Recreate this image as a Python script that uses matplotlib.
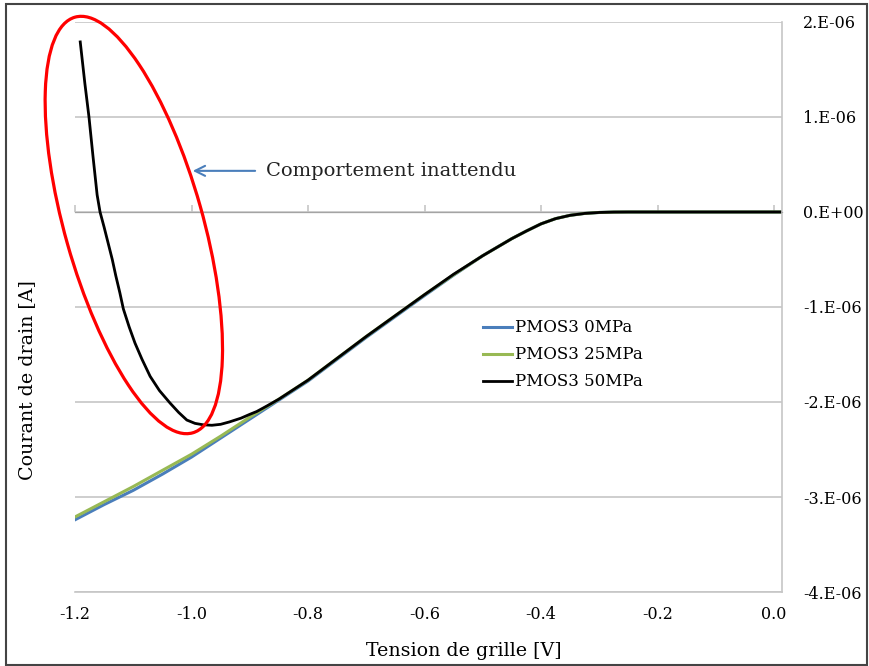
import matplotlib
matplotlib.use("Agg")
import matplotlib.pyplot as plt
from matplotlib.patches import Ellipse, Rectangle
from matplotlib.transforms import IdentityTransform

plt.rcParams["font.family"] = ["DejaVu Serif"]

# données (courant en µA)
v_ref = [-1.20, -1.15, -1.10, -1.05, -1.00, -0.95, -0.90, -0.85, -0.80, -0.75,
         -0.70, -0.65, -0.60, -0.55, -0.50, -0.45, -0.425, -0.40, -0.375, -0.35,
         -0.325, -0.30, -0.275, -0.25, -0.20, -0.15, -0.10, -0.05, 0.00, 0.012]
i_0mpa = [-3.24, -3.08, -2.93, -2.76, -2.58, -2.38, -2.18, -1.98, -1.78, -1.55,
          -1.32, -1.10, -0.88, -0.665, -0.46, -0.28, -0.20, -0.125, -0.07, -0.035,
          -0.015, -0.005, -0.001, 0.0, 0.0, 0.0, 0.0, 0.0, 0.0, 0.0]
i_25mpa = [-3.21, -3.05, -2.89, -2.72, -2.55, -2.36, -2.16, -1.97, -1.77, -1.54,
           -1.31, -1.09, -0.87, -0.66, -0.46, -0.28, -0.20, -0.125, -0.07, -0.035,
           -0.015, -0.005, -0.001, 0.0, 0.0, 0.0, 0.0, 0.0, 0.0, 0.0]

v_50 = [-1.191, -1.183, -1.176, -1.169, -1.162, -1.157, -1.150, -1.143, -1.136,
        -1.130, -1.123, -1.117, -1.107, -1.097, -1.085, -1.071, -1.055, -1.037,
        -1.022, -1.008, -0.994, -0.980, -0.965, -0.950, -0.935, -0.915, -0.900,
        -0.888, -0.870, -0.850, -0.80, -0.75, -0.70, -0.65, -0.60, -0.55, -0.50,
        -0.45, -0.425, -0.40, -0.375, -0.35, -0.325, -0.30, -0.275, -0.25, -0.20,
        -0.15, -0.10, -0.05, 0.00, 0.012]
i_50mpa = [1.79, 1.35, 1.00, 0.58, 0.18, 0.0, -0.16, -0.33, -0.50,
           -0.67, -0.85, -1.02, -1.21, -1.38, -1.55, -1.73, -1.88, -2.01,
           -2.11, -2.19, -2.225, -2.24, -2.245, -2.235, -2.21, -2.17, -2.13,
           -2.10, -2.04, -1.97, -1.77, -1.54, -1.31, -1.09, -0.87, -0.655, -0.46,
           -0.28, -0.20, -0.125, -0.07, -0.035, -0.015, -0.005, -0.001, 0.0, 0.0,
           0.0, 0.0, 0.0, 0.0, 0.0]

x_ticks = [-1.2, -1.0, -0.8, -0.6, -0.4, -0.2, 0.0]
y_ticks = [-4e-6, -3e-6, -2e-6, -1e-6, 0.0, 1e-6, 2e-6]
y_labels = ["-4.E-06", "-3.E-06", "-2.E-06", "-1.E-06", "0.E+00", "1.E-06", "2.E-06"]

fig = plt.figure(figsize=(8.69, 6.66), dpi=100)
ax = fig.add_axes([0.0863, 0.1111, 0.8136, 0.8559])

x_lim = (-1.2, 0.0137)
y_lim = (-4e-6, 2e-6)

# courbes
ax.plot(v_ref, [v * 1e-6 for v in i_0mpa], color="#4a7ebb", lw=2.2, label="PMOS3 0MPa")
ax.plot(v_ref, [v * 1e-6 for v in i_25mpa], color="#98b954", lw=2.2, label="PMOS3 25MPa")
ax.plot(v_50, [v * 1e-6 for v in i_50mpa], color="black", lw=2.0, label="PMOS3 50MPa",
        solid_joinstyle="round")

ax.set_xlim(*x_lim)
ax.set_ylim(*y_lim)

# grille + axes façon Excel
ax.set_yticks(y_ticks, labels=y_labels)
ax.yaxis.tick_right()
ax.grid(axis="y", color="#c6c6c6", lw=1.2)
ax.set_axisbelow(True)
for side in ["top", "left"]:
    ax.spines[side].set_visible(False)
for side in ["right", "bottom"]:
    ax.spines[side].set_color("#c6c6c6")
    ax.spines[side].set_linewidth(1.2)
ax.tick_params(axis="y", length=0, pad=15, labelsize=11.5)
ax.set_xticks(x_ticks, labels=["%.1f" % t for t in x_ticks])
ax.tick_params(axis="x", length=0, pad=10, labelsize=11.5)

# axe horizontal à y = 0 avec petites graduations
zero_frac = (0 - y_lim[0]) / (y_lim[1] - y_lim[0])
sec = ax.secondary_xaxis(zero_frac)
sec.set_xticks(x_ticks, labels=[])
sec.spines["bottom"].set_color("#c6c6c6")
sec.spines["bottom"].set_linewidth(1.2)
sec.tick_params(axis="x", direction="out", length=5, color="#c6c6c6", width=1.2)

# titres d'axes
fig.text(464 / 869, 1 - 651 / 666, "Tension de grille [V]", ha="center", va="center",
         fontsize=13.7)
fig.text(27 / 869, 1 - 380 / 666, "Courant de drain [A]", ha="center", va="center",
         rotation=90, fontsize=13.7)

# légende
ax.legend(loc="center left", bbox_to_anchor=(0.577, 0.416), frameon=False, fontsize=12,
          handlelength=1.75, handletextpad=0.2, labelspacing=0.6, borderpad=0,
          borderaxespad=0)

# annotation
ax.annotate("", xy=(-1.0026, 0.433e-6), xytext=(-0.886, 0.433e-6),
            arrowprops=dict(arrowstyle="->", color="#4a7ebb", lw=1.5, mutation_scale=18))
ax.text(-0.872, 0.433e-6, "Comportement inattendu", ha="left", va="center", fontsize=14,
        color="#222222")

cx, cy = ax.transData.transform((-1.099, -0.137e-6))
ell = Ellipse((cx, cy), width=2 * 69, height=2 * 216, angle=15.8, fill=False,
              edgecolor="red", lw=2.3, transform=IdentityTransform(), clip_on=False)
fig.patches.append(ell)

# cadre autour de la figure
fig.patches.append(Rectangle((6 / 869, 1 / 666), 861 / 869, 661 / 666, fill=False,
                             edgecolor="#444444", lw=1.5, transform=fig.transFigure))

fig.savefig("out.png", dpi=100)
